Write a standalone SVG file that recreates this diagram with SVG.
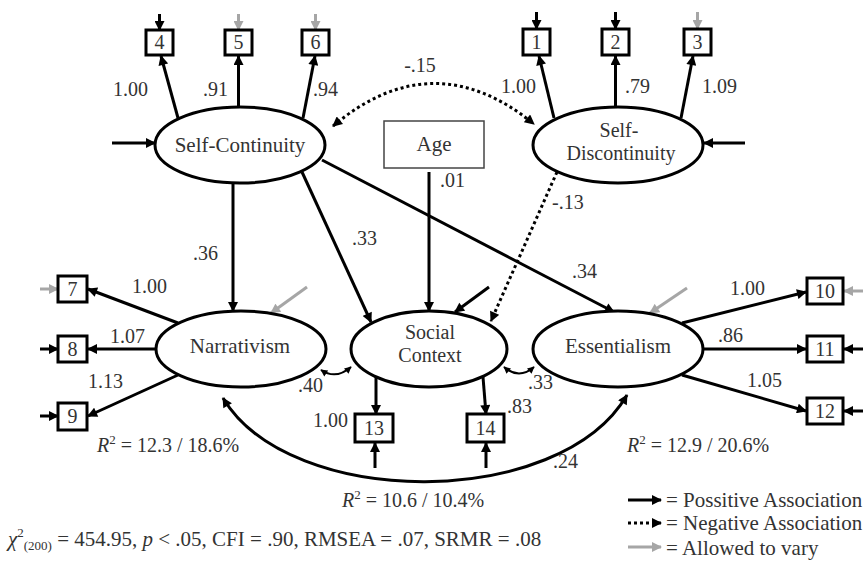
<svg xmlns="http://www.w3.org/2000/svg" width="867" height="561" viewBox="0 0 867 561">
<defs>
<marker id="ab" viewBox="0 0 10 10" markerWidth="11" markerHeight="10" refX="9" refY="5" orient="auto-start-reverse" markerUnits="userSpaceOnUse"><path d="M0,0 L10,5 L0,10 z" fill="#000"/></marker>
<marker id="ag" viewBox="0 0 10 10" markerWidth="11" markerHeight="10" refX="9" refY="5" orient="auto-start-reverse" markerUnits="userSpaceOnUse"><path d="M0,0 L10,5 L0,10 z" fill="#a6a6a6"/></marker>
<marker id="as" viewBox="0 0 10 10" markerWidth="8" markerHeight="7" refX="9" refY="5" orient="auto-start-reverse" markerUnits="userSpaceOnUse"><path d="M0,0 L10,5 L0,10 z" fill="#000"/></marker>
</defs>
<style>
.lat{fill:#fff;stroke:#000;stroke-width:3}
.box{fill:#fff;stroke:#000;stroke-width:3}
.age{fill:#fff;stroke:#444;stroke-width:1.5}
text{font-family:"Liberation Serif","Times New Roman",serif;fill:#333}
.lbl{font-size:21px;text-anchor:middle}
.lbl2{font-size:20px;text-anchor:middle}
.bn{font-size:20px;text-anchor:middle}
.num{font-size:20px}
.pos{stroke:#000;stroke-width:3;fill:none;marker-end:url(#ab)}
.neg{stroke:#000;stroke-width:3;fill:none;stroke-dasharray:3 3;marker-end:url(#ab)}
.gry{stroke:#a6a6a6;stroke-width:3;fill:none;marker-end:url(#ag)}
.cov{stroke:#000;stroke-width:2;fill:none;marker-start:url(#as);marker-end:url(#as)}
.bcov{stroke:#000;stroke-width:3;fill:none;marker-start:url(#ab);marker-end:url(#ab)}
.ncov{stroke:#000;stroke-width:3;fill:none;stroke-dasharray:3 3;marker-start:url(#ab);marker-end:url(#ab)}
</style>

<g id="connectors">
<line class="pos" x1="112" y1="143" x2="155" y2="143"/>
<line class="pos" x1="745" y1="143" x2="704" y2="143"/>
<line class="pos" x1="159.5" y1="14" x2="159.5" y2="30"/>
<line class="gry" x1="238.5" y1="14" x2="238.5" y2="30"/>
<line class="gry" x1="315.5" y1="14" x2="315.5" y2="30"/>
<line class="pos" x1="536.5" y1="12" x2="536.5" y2="29"/>
<line class="pos" x1="615.5" y1="12" x2="615.5" y2="29"/>
<line class="gry" x1="697.5" y1="12" x2="697.5" y2="29"/>
<line class="gry" x1="40" y1="289" x2="58" y2="289"/>
<line class="pos" x1="40" y1="349" x2="58" y2="349"/>
<line class="pos" x1="40" y1="416" x2="58" y2="416"/>
<line class="gry" x1="863" y1="291" x2="844" y2="291"/>
<line class="pos" x1="863" y1="349" x2="844" y2="349"/>
<line class="pos" x1="863" y1="411" x2="844" y2="411"/>
<line class="pos" x1="375" y1="468" x2="375" y2="443"/>
<line class="pos" x1="486" y1="468" x2="486" y2="443"/>
<line class="pos" x1="489" y1="287" x2="455" y2="312"/>
<line class="gry" x1="307" y1="287" x2="271" y2="313"/>
<line class="gry" x1="687" y1="288" x2="650" y2="313"/>
<line class="pos" x1="178" y1="118" x2="161" y2="56"/>
<line class="pos" x1="238.5" y1="107" x2="238.5" y2="56"/>
<line class="pos" x1="303" y1="118" x2="315" y2="56"/>
<line class="pos" x1="554" y1="118" x2="539" y2="56"/>
<line class="pos" x1="615.5" y1="107" x2="615.5" y2="56"/>
<line class="pos" x1="681" y1="118" x2="693" y2="56"/>
<line class="pos" x1="178" y1="323" x2="88" y2="289"/>
<line class="pos" x1="156" y1="349" x2="88" y2="349"/>
<line class="pos" x1="178" y1="375" x2="88" y2="416"/>
<line class="pos" x1="682" y1="323" x2="806" y2="292"/>
<line class="pos" x1="703" y1="349" x2="806" y2="349"/>
<line class="pos" x1="682" y1="375" x2="806" y2="411"/>
<line class="pos" x1="376" y1="377" x2="376" y2="414"/>
<line class="pos" x1="483" y1="377" x2="486" y2="414"/>
<line class="pos" x1="429" y1="172" x2="429" y2="311"/>
<line class="pos" x1="233" y1="183" x2="233" y2="311"/>
<line class="pos" x1="302" y1="172" x2="371" y2="322"/>
<line class="pos" x1="322" y1="160" x2="614" y2="312"/>
<line class="neg" x1="557" y1="172" x2="491" y2="321"/>
<path class="ncov" d="M333,126 Q433,42 534,124"/>
<path class="cov" d="M321,370 Q336,380 351,367"/>
<path class="cov" d="M504,367 Q519,380 534,367"/>
<path class="bcov" d="M223,398 C290,510 560,510 627,395"/>
</g>

<g id="self-continuity"><ellipse class="lat" cx="240" cy="145" rx="85" ry="38"/><text class="lbl" x="240" y="152">Self-Continuity</text></g>
<g id="self-discontinuity"><ellipse class="lat" cx="618" cy="145" rx="85" ry="38"/><text class="lbl2" x="619" y="137">Self-</text><text class="lbl2" x="621" y="160">Discontinuity</text></g>
<g id="age"><rect class="age" x="384" y="121" width="100" height="47"/><text class="lbl" x="434" y="151">Age</text></g>
<g id="narrativism"><ellipse class="lat" cx="241" cy="349" rx="85" ry="38"/><text class="lbl" x="240" y="353">Narrativism</text></g>
<g id="social-context"><ellipse class="lat" cx="429" cy="349" rx="78" ry="38"/><text class="lbl2" x="430" y="339">Social</text><text class="lbl2" x="430" y="362">Context</text></g>
<g id="essentialism"><ellipse class="lat" cx="618" cy="349" rx="85" ry="38"/><text class="lbl" x="618" y="353">Essentialism</text></g>

<g id="item4"><rect class="box" x="146" y="30" width="27" height="25"/><text class="bn" x="159.5" y="49">4</text></g>
<g id="item5"><rect class="box" x="225" y="30" width="27" height="25"/><text class="bn" x="238.5" y="49">5</text></g>
<g id="item6"><rect class="box" x="302" y="30" width="27" height="25"/><text class="bn" x="315.5" y="49">6</text></g>
<g id="item1"><rect class="box" x="523" y="29" width="27" height="26"/><text class="bn" x="536.5" y="49">1</text></g>
<g id="item2"><rect class="box" x="602" y="29" width="27" height="26"/><text class="bn" x="615.5" y="49">2</text></g>
<g id="item3"><rect class="box" x="684" y="29" width="27" height="26"/><text class="bn" x="697.5" y="49">3</text></g>
<g id="item7"><rect class="box" x="58" y="276" width="29" height="26"/><text class="bn" x="72.5" y="296">7</text></g>
<g id="item8"><rect class="box" x="58" y="336" width="29" height="26"/><text class="bn" x="72.5" y="356">8</text></g>
<g id="item9"><rect class="box" x="58" y="403" width="29" height="27"/><text class="bn" x="72.5" y="423">9</text></g>
<g id="item10"><rect class="box" x="807" y="278" width="36" height="26"/><text class="bn" x="825" y="298">10</text></g>
<g id="item11"><rect class="box" x="807" y="336" width="36" height="26"/><text class="bn" x="825" y="356">11</text></g>
<g id="item12"><rect class="box" x="807" y="398" width="36" height="26"/><text class="bn" x="825" y="418">12</text></g>
<g id="item13"><rect class="box" x="355" y="414" width="38" height="28"/><text class="bn" x="374" y="435">13</text></g>
<g id="item14"><rect class="box" x="467" y="414" width="37" height="28"/><text class="bn" x="485.5" y="435">14</text></g>

<g id="labels">
<text class="num" x="113" y="96">1.00</text>
<text class="num" x="203" y="96">.91</text>
<text class="num" x="313" y="96">.94</text>
<text class="num" x="501" y="93">1.00</text>
<text class="num" x="625" y="93">.79</text>
<text class="num" x="702" y="93">1.09</text>
<text class="num" x="420" y="72" text-anchor="middle">-.15</text>
<text class="num" x="440" y="187">.01</text>
<text class="num" x="552" y="209">-.13</text>
<text class="num" x="193" y="260">.36</text>
<text class="num" x="352" y="245">.33</text>
<text class="num" x="572" y="278">.34</text>
<text class="num" x="132" y="293">1.00</text>
<text class="num" x="110" y="343">1.07</text>
<text class="num" x="88" y="388">1.13</text>
<text class="num" x="730" y="295">1.00</text>
<text class="num" x="718" y="342">.86</text>
<text class="num" x="747" y="387">1.05</text>
<text class="num" x="298" y="392">.40</text>
<text class="num" x="528" y="389">.33</text>
<text class="num" x="313" y="427">1.00</text>
<text class="num" x="507" y="413">.83</text>
<text class="num" x="553" y="468">.24</text>
<text class="num" x="97" y="452"><tspan font-style="italic">R</tspan><tspan font-size="13" dy="-8">2</tspan><tspan dy="8"> = 12.3 / 18.6%</tspan></text>
<text class="num" x="627" y="452"><tspan font-style="italic">R</tspan><tspan font-size="13" dy="-8">2</tspan><tspan dy="8"> = 12.9 / 20.6%</tspan></text>
<text class="num" x="342" y="507"><tspan font-style="italic">R</tspan><tspan font-size="13" dy="-8">2</tspan><tspan dy="8"> = 10.6 / 10.4%</tspan></text>
<text x="8" y="546" font-size="21"><tspan font-style="italic">χ</tspan><tspan font-size="13" dy="-9">2</tspan><tspan font-size="13" dy="13">(200)</tspan><tspan dy="-4"> = 454.95, </tspan><tspan font-style="italic">p</tspan><tspan> &lt; .05, CFI = .90, RMSEA = .07, SRMR = .08</tspan></text>
</g>

<g id="legend">
<line class="pos" x1="628" y1="500" x2="661" y2="500"/>
<line class="neg" x1="628" y1="523" x2="661" y2="523"/>
<line class="gry" x1="628" y1="547" x2="661" y2="547"/>
<text x="666" y="507" font-size="21">= Possitive Association</text>
<text x="666" y="530" font-size="21">= Negative Association</text>
<text x="666" y="555" font-size="21">= Allowed to vary</text>
</g>
</svg>
